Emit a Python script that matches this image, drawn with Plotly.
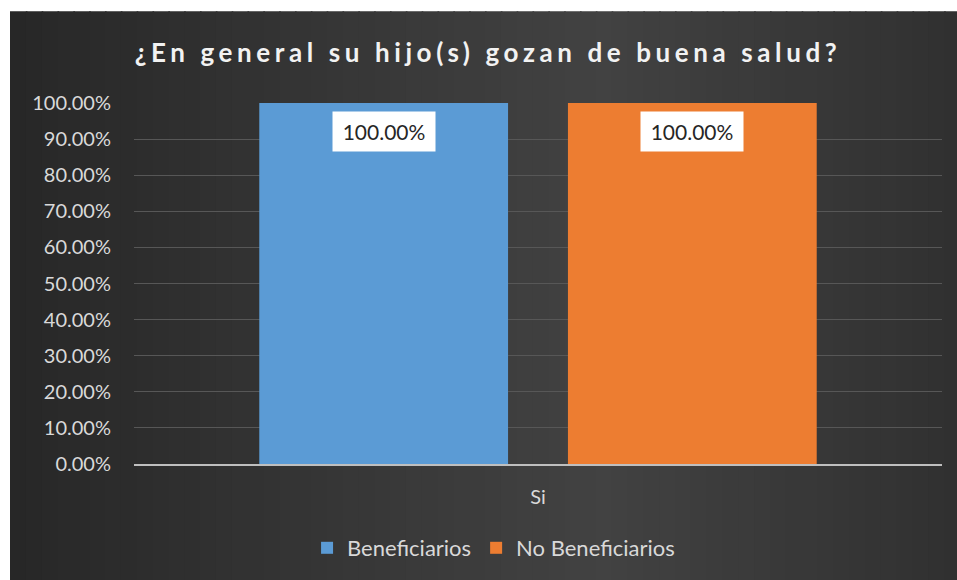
import plotly.graph_objects as go

categories = ["Si"]
series_names = ["Beneficiarios", "No Beneficiarios"]
beneficiarios = [1.0]
no_beneficiarios = [1.0]
tick_vals = [i / 10 for i in range(11)]
title_text = "¿En general su hijo(s) gozan de buena salud?"

colors = ["#5b9bd5", "#ed7d31"]
bargap = 0.236
bargroupgap = 0.194

fig = go.Figure()
for name, vals, c in zip(series_names, [beneficiarios, no_beneficiarios], colors):
    fig.add_trace(go.Bar(x=categories, y=vals, name=name,
                         marker=dict(color=c, line=dict(width=0))))

# data labels with white boxes, placed at each bar centre
slot = (1 - bargap) / len(series_names)
for ci, cat in enumerate(categories):
    for si, vals in enumerate([beneficiarios, no_beneficiarios]):
        xc = ci - (1 - bargap) / 2 + slot * (si + 0.5)
        fig.add_annotation(x=xc, y=vals[ci], xref="x", yref="y",
                           text=f"{vals[ci]*100:.2f}%", showarrow=False,
                           yanchor="top", yshift=-8, bgcolor="white",
                           width=100, height=37,
                           font=dict(family="Lato", size=21, color="#262626"))

# dark gradient background (chart area)
x0p, x1p = (10 - 134) / 808, (960 - 134) / 808
y0p, y1p = (465 - 582) / 362, (465 - 11) / 362
n = 60
def shade(t):
    peak = 0.62
    if t < peak:
        v = 0x27 + (0x42 - 0x27) * (t / peak)
    else:
        v = 0x42 - (0x42 - 0x30) * ((t - peak) / (1 - peak))
    v = int(round(v))
    return f"rgb({v},{v},{v})"
shapes = []
for i in range(n):
    a = x0p + (x1p - x0p) * i / n
    b = x0p + (x1p - x0p) * (i + 1) / n + 0.002
    shapes.append(dict(type="rect", xref="paper", yref="paper", x0=a, x1=b,
                       y0=y0p, y1=y1p, fillcolor=shade((i + 0.5) / n),
                       line=dict(width=0), layer="below"))

fig.update_layout(
    width=957, height=580,
    margin=dict(l=134, r=15, t=103, b=115),
    paper_bgcolor="white", plot_bgcolor="rgba(0,0,0,0)",
    shapes=shapes,
    barmode="group", bargap=bargap, bargroupgap=bargroupgap,
    title=dict(text=title_text, x=0.51, xanchor="center", y=1 - 53 / 580,
               yanchor="middle",
               font=dict(family="Lato", size=26, color="#f2f2f2", weight="bold")),
    font=dict(family="Lato", color="#d9d9d9", size=20),
    showlegend=True,
    legend=dict(orientation="h", x=0.445, xanchor="center", y=(465 - 548) / 362,
                yanchor="middle", font=dict(size=22, color="#d9d9d9"),
                bgcolor="rgba(0,0,0,0)", itemwidth=30, traceorder="normal"),
    xaxis=dict(showline=True, linecolor="#bfbfbf", linewidth=2,
               ticks="", showgrid=False, ticklabelstandoff=14,
               tickfont=dict(size=20, color="#d9d9d9"), fixedrange=True),
    yaxis=dict(range=[0, 1], tickvals=tick_vals, tickformat=".2%",
               showgrid=True, gridcolor="#575757", gridwidth=1,
               zeroline=False, showline=False, ticks="",
               ticklabelstandoff=22,
               tickfont=dict(size=20, color="#d9d9d9")),
)

fig.write_html("out.html", config={"displayModeBar": False}, post_script="""
document.body.style.margin = '0';
var t = document.querySelector('.gtitle');
if (t) { t.style.letterSpacing = '4.6px'; }
""")
